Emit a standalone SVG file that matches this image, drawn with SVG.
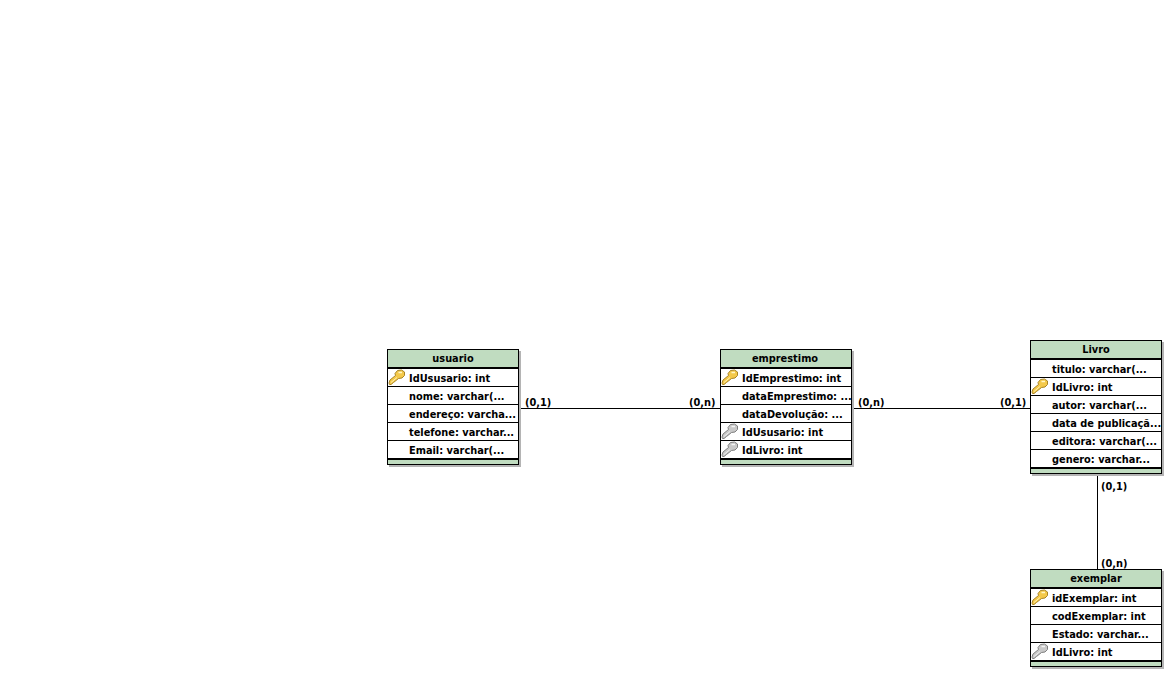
<svg xmlns="http://www.w3.org/2000/svg" xmlns:xlink="http://www.w3.org/1999/xlink" width="1169" height="674" viewBox="0 0 1169 674">
<style>
text{font-family:"DejaVu Sans","Liberation Sans",sans-serif;font-weight:bold;font-size:9.8px;fill:#000}
.t{text-anchor:middle}
.sh{fill:#b4b4b4;shape-rendering:crispEdges}
.b{fill:#fff;stroke:#000;stroke-width:1;shape-rendering:crispEdges}
.h{fill:#c0dcc0;shape-rendering:crispEdges}
.r{stroke:#000;stroke-width:1;shape-rendering:crispEdges}
.k{stroke:#000;stroke-width:2;shape-rendering:crispEdges}
.c{stroke:#000;stroke-width:1;fill:none;shape-rendering:crispEdges}
</style>
<defs>
<path id="keyshape" d="M1 14 L2 11 L7.5 6.5 L7 4.5 L9.5 1.5 L13.5 1 L16.5 3 L16.5 6.5 L14 9 L10.5 9.5 L5.5 13.5 L3 15.5 L1.5 15.5Z"/>
<g id="gold"><use xlink:href="#keyshape" fill="#f4c94a" stroke="#a88426"/><path d="M10.5 3.5H14" stroke="#fff6c8" stroke-width="1.5"/><path d="M3 13.5L9 8.5" stroke="#fff0b0" stroke-width="1"/></g>
<g id="gray"><use xlink:href="#keyshape" fill="#c8c8c8" stroke="#808080"/><path d="M10.5 3.5H14" stroke="#f4f4f4" stroke-width="1.5"/><path d="M3 13.5L9 8.5" stroke="#eeeeee" stroke-width="1"/></g>
</defs>
<rect width="1169" height="674" fill="#fff"/>
<g id="connectors">
<path class="c" d="M519.5 408.5H720.5M852.5 408.5H1030.5M1097.5 475V569"/>
<text x="525" y="406">(0,1)</text><text x="689" y="406">(0,n)</text><text x="858" y="406">(0,n)</text><text x="1000" y="406">(0,1)</text><text x="1101" y="490">(0,1)</text><text x="1101" y="567">(0,n)</text>
</g>
<g id="usuario">
<rect class="sh" x="389" y="351" width="132" height="116"/>
<rect class="b" x="387.5" y="349.5" width="131" height="115"/>
<rect class="h" x="388" y="350" width="130" height="17"/><rect class="h" x="388" y="460" width="130" height="4"/>
<path class="k" d="M388 368H518M388 459H518"/>
<path class="r" d="M388 386.5H518M388 404.5H518M388 422.5H518M388 440.5H518"/>
<text class="t" x="453" y="362">usuario</text>
<use xlink:href="#gold" x="388" y="369"/>
<text x="409" y="382">IdUsusario: int</text><text x="409" y="400">nome: varchar(...</text><text x="409" y="418">endereço: varcha...</text><text x="409" y="436">telefone: varchar...</text><text x="409" y="454">Email: varchar(...</text>
</g>
<g id="emprestimo">
<rect class="sh" x="722" y="351" width="132" height="116"/>
<rect class="b" x="720.5" y="349.5" width="131" height="115"/>
<rect class="h" x="721" y="350" width="130" height="17"/><rect class="h" x="721" y="460" width="130" height="4"/>
<path class="k" d="M721 368H851M721 459H851"/>
<path class="r" d="M721 386.5H851M721 404.5H851M721 422.5H851M721 440.5H851"/>
<text class="t" x="785" y="362">emprestimo</text>
<use xlink:href="#gold" x="721" y="369"/><use xlink:href="#gray" x="721" y="423"/><use xlink:href="#gray" x="721" y="441"/>
<text x="742" y="382">IdEmprestimo: int</text><text x="742" y="400">dataEmprestimo: ...</text><text x="742" y="418">dataDevolução: ...</text><text x="742" y="436">IdUsusario: int</text><text x="742" y="454">IdLivro: int</text>
</g>
<g id="livro">
<rect class="sh" x="1032" y="342" width="132" height="134"/>
<rect class="b" x="1030.5" y="340.5" width="131" height="133"/>
<rect class="h" x="1031" y="341" width="130" height="17"/><rect class="h" x="1031" y="469" width="130" height="4"/>
<path class="k" d="M1031 359H1161M1031 468H1161"/>
<path class="r" d="M1031 377.5H1161M1031 395.5H1161M1031 413.5H1161M1031 431.5H1161M1031 449.5H1161"/>
<text class="t" x="1096" y="353">Livro</text>
<use xlink:href="#gold" x="1031" y="378"/>
<text x="1052" y="373">titulo: varchar(...</text><text x="1052" y="391">IdLivro: int</text><text x="1052" y="409">autor: varchar(...</text><text x="1052" y="427">data de publicaçã...</text><text x="1052" y="445">editora: varchar(...</text><text x="1052" y="463">genero: varchar...</text>
</g>
<g id="exemplar">
<rect class="sh" x="1032" y="571" width="132" height="98"/>
<rect class="b" x="1030.5" y="569.5" width="131" height="97"/>
<rect class="h" x="1031" y="570" width="130" height="17"/><rect class="h" x="1031" y="662" width="130" height="4"/>
<path class="k" d="M1031 588H1161M1031 661H1161"/>
<path class="r" d="M1031 606.5H1161M1031 624.5H1161M1031 642.5H1161"/>
<text class="t" x="1096" y="582">exemplar</text>
<use xlink:href="#gold" x="1031" y="589"/><use xlink:href="#gray" x="1031" y="643"/>
<text x="1052" y="602">idExemplar: int</text><text x="1052" y="620">codExemplar: int</text><text x="1052" y="638">Estado: varchar...</text><text x="1052" y="656">IdLivro: int</text>
</g>
</svg>
